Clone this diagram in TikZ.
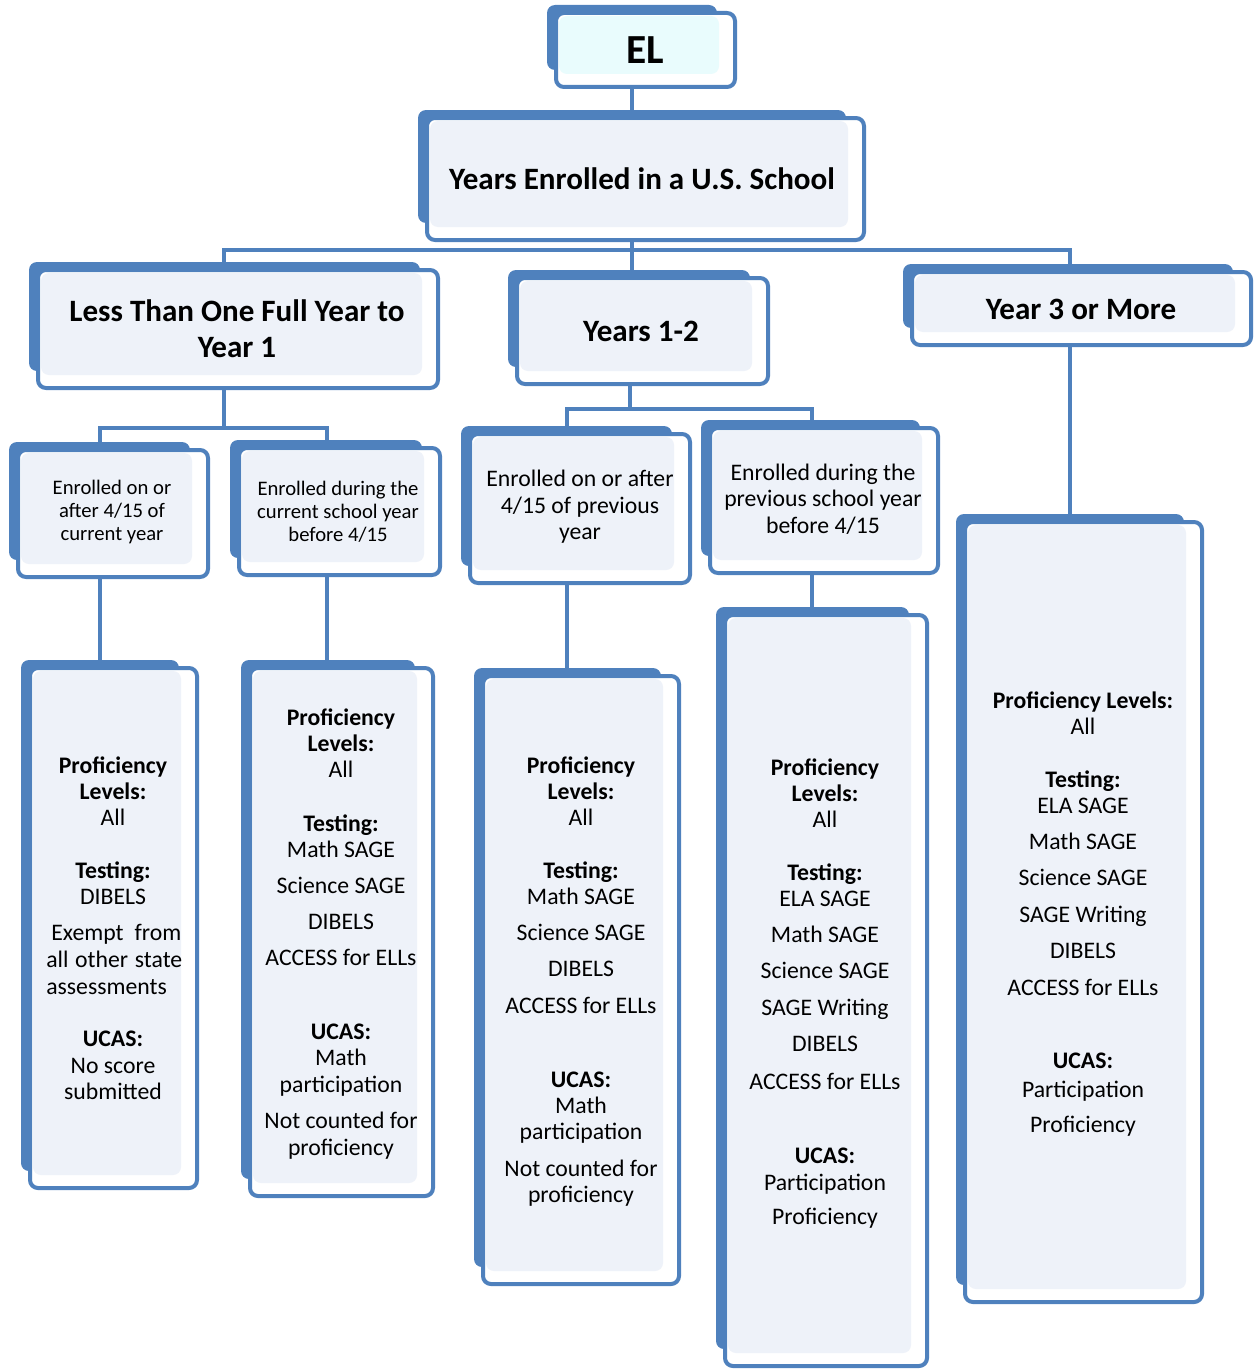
\documentclass[tikz,border=0pt]{standalone}
\usepackage{fontspec}
\setmainfont{Carlito}
\usetikzlibrary{calc}
\definecolor{bluemain}{HTML}{4F81BD}
\definecolor{lightfill}{HTML}{EEF2F9}
\definecolor{elfill}{HTML}{E9FCFD}
\pgfdeclarelayer{bg}
\pgfsetlayers{bg,main}
\tikzset{
  frontbox/.style={draw=bluemain, line width=3pt, rounded corners=6pt, inner sep=0pt, outer sep=0pt},
  conn/.style={draw=bluemain, line width=3pt},
  busline/.style={draw=bluemain, line width=2.3pt},
  lvfour/.style={font=\fontsize{17.8}{20}\selectfont, anchor=base, inner sep=0pt},
  smalltxt/.style={font=\fontsize{15.5}{17.25}\selectfont, align=center, inner sep=0pt},
  midtxt/.style={font=\fontsize{17.8}{19.9}\selectfont, align=center, inner sep=0pt},
  bigtxt/.style={font=\bfseries\fontsize{23.3}{27}\selectfont, align=center, inner sep=0pt},
}
\newcommand{\ebox}[6]{%
  \fill[bluemain, rounded corners=6pt] (#2-9,#3-8) rectangle (#4-18,#5-17);
  \fill[white, rounded corners=6pt] (#2,#3) rectangle (#4,#5);
  \fill[#6, rounded corners=6pt] (#2+3,#3+3) rectangle (#4-16,#5-13);
  \node[frontbox, minimum width={(#4-#2)*0.75pt}, minimum height={(#5-#3)*0.75pt}] (#1) at ({(#2+#4)/2},{(#3+#5)/2}) {};
}
\begin{document}
\begin{tikzpicture}[x=0.75pt, y=-0.75pt]
\useasboundingbox (0,0) rectangle (1254,1370);

% boxes
\ebox{el}{556}{13}{735}{87}{elfill}
\ebox{yrs}{427}{118}{864}{240}{lightfill}
\ebox{lt}{38}{270}{438}{388}{lightfill}
\ebox{ytw}{517}{278}{768}{384}{lightfill}
\ebox{ythree}{912}{272}{1251}{345}{lightfill}
\ebox{ba}{18}{450}{208}{577}{lightfill}
\ebox{bb}{239}{448}{440}{575}{lightfill}
\ebox{bc}{470}{434}{690}{583}{lightfill}
\ebox{bd}{710}{428}{938}{573}{lightfill}
\ebox{pa}{30}{668}{197}{1188}{lightfill}
\ebox{pb}{250}{668}{433}{1196}{lightfill}
\ebox{pc}{483}{676}{679}{1284}{lightfill}
\ebox{pd}{725}{615}{927}{1366}{lightfill}
\ebox{pe}{965}{522}{1202}{1302}{lightfill}

% titles
\node[font=\bfseries\fontsize{31}{34}\selectfont, inner sep=0pt] (el-t) at (645,50) {EL};
\node[bigtxt] (yrs-t) at (642,179) {Years Enrolled in a U.S. School};
\node[bigtxt] (lt-t) at (237,329) {Less Than One Full Year to\\Year 1};
\node[bigtxt] (ytw-t) at (641,331) {Years 1-2};
\node[bigtxt] (ythree-t) at (1081,309) {Year 3 or More};

\node[smalltxt] (ba-t) at (112,512) {Enrolled on or\\after 4/15 of\\current year};
\node[smalltxt] (bb-t) at (338,512) {Enrolled during the\\current school year\\before 4/15};
\node[midtxt] (bc-t) at (580,507) {Enrolled on or after\\4/15 of previous\\year};
\node[midtxt] (bd-t) at (823,499) {Enrolled during the\\previous school year\\before 4/15};

% level 4 texts
\foreach \tx/\yy in {{\bfseries Proficiency}/765, {\bfseries Levels:}/791, All/817, {\bfseries Testing:}/870, DIBELS/896, {\bfseries UCAS:}/1038, No score/1065, submitted/1091}
  \node[lvfour] (pa-\yy) at (113,\yy+8) {\tx};
\node[lvfour, anchor=base west] (pa-j1) at (51,940) {\makebox[130\dimexpr0.75pt\relax][s]{Exempt from}};
\node[lvfour, anchor=base west] (pa-j2) at (46,967) {\makebox[136\dimexpr0.75pt\relax][s]{all other state}};
\node[lvfour, anchor=base west] (pa-j3) at (46,994) {assessments};

\foreach \tx/\yy in {{\bfseries Proficiency}/717, {\bfseries Levels:}/743, All/769, {\bfseries Testing:}/823, Math SAGE/849, Science SAGE/885, DIBELS/921, ACCESS for ELLs/957, {\bfseries UCAS:}/1031, Math/1057, participation/1084, Not counted for/1120, proficiency/1147}
  \node[lvfour] (pb-\yy) at (341,\yy+8) {\tx};

\foreach \tx/\yy in {{\bfseries Proficiency}/765, {\bfseries Levels:}/791, All/817, {\bfseries Testing:}/870, Math SAGE/896, Science SAGE/932, DIBELS/968, ACCESS for ELLs/1005, {\bfseries UCAS:}/1079, Math/1105, participation/1131, Not counted for/1168, proficiency/1194}
  \node[lvfour] (pc-\yy) at (581,\yy+8) {\tx};

\foreach \tx/\yy in {{\bfseries Proficiency}/767, {\bfseries Levels:}/793, All/819, {\bfseries Testing:}/872, ELA SAGE/898, Math SAGE/934, Science SAGE/970, SAGE Writing/1007, DIBELS/1043, ACCESS for ELLs/1081, {\bfseries UCAS:}/1155, Participation/1182, Proficiency/1216}
  \node[lvfour] (pd-\yy) at (825,\yy+8) {\tx};

\foreach \tx/\yy in {{\bfseries Proficiency Levels:}/700, All/726, {\bfseries Testing:}/779, ELA SAGE/805, Math SAGE/841, Science SAGE/877, SAGE Writing/914, DIBELS/950, ACCESS for ELLs/987, {\bfseries UCAS:}/1060, Participation/1089, Proficiency/1124}
  \node[lvfour] (pe-\yy) at (1083,\yy+8) {\tx};

% connector coordinates
\coordinate (xm) at (632,0);
\coordinate (xl) at (224,0);
\coordinate (xr) at (1070,0);
\coordinate (busy) at (0,250);
\coordinate (xa) at (100,0);
\coordinate (xb) at (327,0);
\coordinate (bustwo) at (0,428);
\coordinate (xtw) at (630,0);
\coordinate (xc) at (567,0);
\coordinate (xd) at (812,0);
\coordinate (busthree) at (0,409);

\begin{pgfonlayer}{bg}
\draw[conn] (el.south -| xm) -- (yrs.north -| xm);
\draw[conn] (yrs.south -| xm) -- (xm |- busy);
\draw[busline] (lt.north -| xl) -- (xl |- busy) -- (xr |- busy) -- (ythree.north -| xr);
\draw[busline] (xm |- busy) -- (ytw.north -| xm);
\draw[conn] (ythree.south -| xr) -- (pe.north -| xr);
\draw[conn] (lt.south -| xl) -- (xl |- bustwo);
\draw[busline] (ba.north -| xa) -- (xa |- bustwo) -- (xb |- bustwo) -- (bb.north -| xb);
\draw[conn] (ytw.south -| xtw) -- (xtw |- busthree);
\draw[busline] (bc.north -| xc) -- (xc |- busthree) -- (xd |- busthree) -- (bd.north -| xd);
\draw[conn] (ba.south -| xa) -- (pa.north -| xa);
\draw[conn] (bb.south -| xb) -- (pb.north -| xb);
\draw[conn] (bc.south -| xc) -- (pc.north -| xc);
\draw[conn] (bd.south -| xd) -- (pd.north -| xd);
\end{pgfonlayer}
\end{tikzpicture}
\end{document}
